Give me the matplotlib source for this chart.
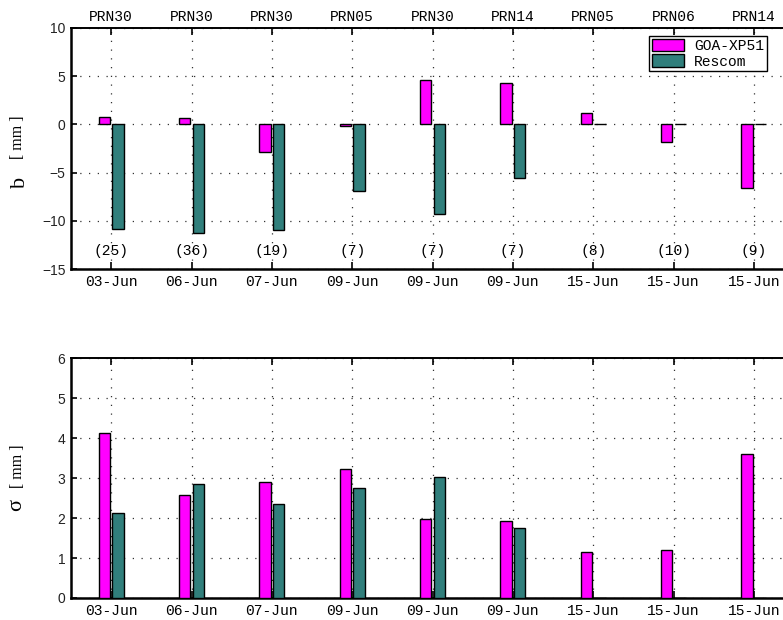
import numpy as np
import matplotlib.pyplot as plt
from matplotlib.ticker import FixedLocator

# datas e satelites de cada sessao
datas = ['03-Jun', '06-Jun', '07-Jun', '09-Jun', '09-Jun', '09-Jun', '15-Jun', '15-Jun', '15-Jun']
prns = ['PRN30', 'PRN30', 'PRN30', 'PRN05', 'PRN30', 'PRN14', 'PRN05', 'PRN06', 'PRN14']
n_obs = ['(25)', '(36)', '(19)', '(7)', '(7)', '(7)', '(8)', '(10)', '(9)']

# vies b [mm]
b_goa = [0.80, 0.66, -2.84, -0.17, 4.57, 4.33, 1.14, -1.83, -6.64]
b_rescom = [-10.8, -11.3, -10.9, -6.9, -9.34, -5.54, 0.0, 0.0, 0.0]

# desvio padrao sigma [mm]
s_goa = [4.12, 2.57, 2.90, 3.22, 1.975, 1.925, 1.15, 1.20, 3.60]
s_rescom = [2.125, 2.85, 2.35, 2.76, 3.02, 1.75, 0.0, 0.0, 0.0]

cor_goa = '#ff00ff'
cor_rescom = '#317f7c'
mono = 'Liberation Mono'
serif = 'Liberation Serif'

x = np.arange(1, len(datas) + 1)
larg = 0.14
desl = 0.085

fig = plt.figure(figsize=(7.83, 6.2), dpi=100)
ax1 = fig.add_axes([0.0907, 0.566, 0.9234, 0.389])
ax2 = fig.add_axes([0.0907, 0.0355, 0.9234, 0.387])


def estilo(ax, ylim, yticks):
	ax.set_xlim(0.5, 9.5)
	ax.set_ylim(*ylim)
	ax.set_yticks(yticks)
	ax.set_xticks(x)
	ax.set_xticklabels(datas, family=mono, fontsize=10.5)
	for t in ax.get_yticklabels():
		t.set_family('Liberation Sans')
		t.set_fontsize(10)
		t.set_color('#222222')
	ax.tick_params(direction='in', length=5, width=1.2, top=True, pad=4)
	ax.tick_params(axis='y', length=4)
	ax.grid(True, linestyle=(0, (1, 6)), color='#333333', linewidth=0.9)
	ax.set_axisbelow(True)
	ax.spines['left'].set_linewidth(1.8)
	ax.spines['bottom'].set_linewidth(1.8)
	ax.spines['top'].set_linewidth(1.4)
	ax.spines['right'].set_visible(False)


# rotulo do eixo y: simbolo grande, unidade menor (posicoes em pixels)
def rotulo(simbolo, x_simb, y_simb, y_un):
	fig.text(x_simb / 783, 1 - y_simb / 620, simbolo, rotation=90, ha='center', va='center',
		family=serif, fontsize=16)
	fig.text(18 / 783, 1 - y_un / 620, '[ mm ]', rotation=90, ha='center', va='center',
		family=serif, fontsize=11.5)


# painel de cima: vies
ax1.bar(x - desl, b_goa, larg, color=cor_goa, edgecolor='black', linewidth=1, label='GOA-XP51', zorder=3)
ax1.bar(x + desl, b_rescom, larg, color=cor_rescom, edgecolor='black', linewidth=1, label='Rescom', zorder=3)
estilo(ax1, (-15, 10), [-15, -10, -5, 0, 5, 10])
for xi, n in zip(x, n_obs):
	ax1.text(xi, -13.15, n, ha='center', va='center', family=mono, fontsize=10.5)
rotulo('b', 20, 182, 137)

topo = ax1.secondary_xaxis('top')
topo.xaxis.set_major_locator(FixedLocator(list(x)))
topo.set_xticklabels(prns, family=mono, fontsize=10.5)
topo.tick_params(length=0, pad=3)
topo.spines['top'].set_visible(False)

leg = ax1.legend(loc='upper left', bbox_to_anchor=(649 / 783, 1 - 36 / 620),
	bbox_transform=fig.transFigure, borderaxespad=0, fancybox=False,
	edgecolor='black', framealpha=1, handlelength=2.2, handleheight=0.9,
	borderpad=0.2, labelspacing=0.1, handletextpad=0.7,
	prop={'family': mono, 'size': 10.5})
leg.get_frame().set_linewidth(1.0)

# painel de baixo: sigma
ax2.bar(x - desl, s_goa, larg, color=cor_goa, edgecolor='black', linewidth=1, zorder=3)
ax2.bar(x + desl, s_rescom, larg, color=cor_rescom, edgecolor='black', linewidth=1, zorder=3)
estilo(ax2, (0, 6), [0, 1, 2, 3, 4, 5, 6])
rotulo('σ', 17, 505, 466)

fig.savefig('out.png', dpi=100)
